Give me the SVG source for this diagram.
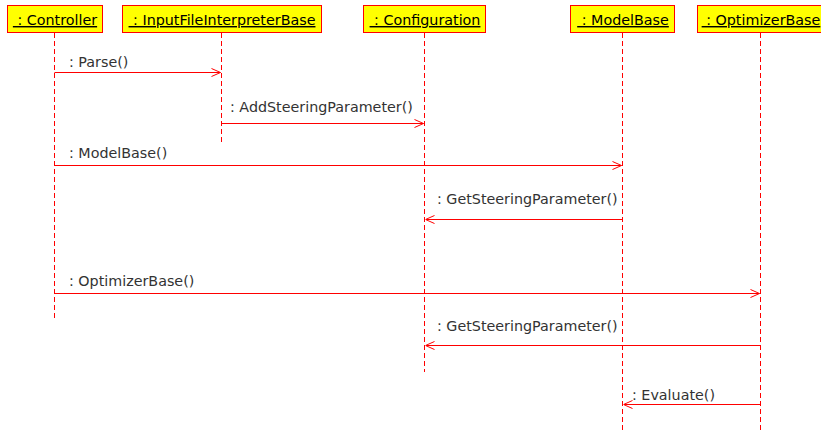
<svg xmlns="http://www.w3.org/2000/svg" width="821" height="431" viewBox="0 0 821 431">
<style>
.box{fill:#ffff00;stroke:#ff0000;stroke-width:1}
.hd{font-family:"DejaVu Sans",sans-serif;font-size:14.3px;fill:#000;text-anchor:middle;text-decoration:underline}
.life{stroke:#ff0000;stroke-width:1;stroke-dasharray:5,3;fill:none}
.msg{stroke:#ff0000;stroke-width:1;fill:none}
.lbl{font-family:"DejaVu Sans",sans-serif;font-size:14.3px;fill:#333}
</style>
<defs>
<marker id="ah" viewBox="0 0 10 10" refX="10" refY="5" markerWidth="10" markerHeight="10" markerUnits="userSpaceOnUse" orient="auto">
<path d="M1,1 L10,5 L1,9" fill="none" stroke="#ff0000" stroke-width="1"/>
</marker>
</defs>
<rect width="821" height="431" fill="#fff"/>
<g id="controller">
<line class="life" x1="54.5" y1="33" x2="54.5" y2="321"/>
<rect class="box" x="7.5" y="5.5" width="95" height="27"/>
<text class="hd" x="55" y="25">&#160;: Controller</text>
</g>
<g id="inputfileinterpreterbase">
<line class="life" x1="221.5" y1="33" x2="221.5" y2="145"/>
<rect class="box" x="122.5" y="5.5" width="199" height="27"/>
<text class="hd" x="222" y="25">&#160;: InputFileInterpreterBase</text>
</g>
<g id="configuration">
<line class="life" x1="424.5" y1="33" x2="424.5" y2="372"/>
<rect class="box" x="363.5" y="5.5" width="122" height="27"/>
<text class="hd" x="425" y="25">&#160;: Configuration</text>
</g>
<g id="modelbase">
<line class="life" x1="622.5" y1="33" x2="622.5" y2="431"/>
<rect class="box" x="570.5" y="5.5" width="104" height="27"/>
<text class="hd" x="623" y="25">&#160;: ModelBase</text>
</g>
<g id="optimizerbase">
<line class="life" x1="760.5" y1="33" x2="760.5" y2="431"/>
<rect class="box" x="697.5" y="5.5" width="126" height="27"/>
<text class="hd" x="761" y="25">&#160;: OptimizerBase</text>
</g>
<g id="connectors">
<line class="msg" x1="54.5" y1="72.5" x2="220.5" y2="72.5" marker-end="url(#ah)"/>
<text class="lbl" x="69" y="67">: Parse()</text>
<line class="msg" x1="221.5" y1="123.5" x2="423.5" y2="123.5" marker-end="url(#ah)"/>
<text class="lbl" x="230" y="112">: AddSteeringParameter()</text>
<line class="msg" x1="54.5" y1="165.5" x2="621.5" y2="165.5" marker-end="url(#ah)"/>
<text class="lbl" x="69" y="158">: ModelBase()</text>
<line class="msg" x1="622.5" y1="219.5" x2="425.5" y2="219.5" marker-end="url(#ah)"/>
<text class="lbl" x="437" y="204">: GetSteeringParameter()</text>
<line class="msg" x1="54.5" y1="293.5" x2="759.5" y2="293.5" marker-end="url(#ah)"/>
<text class="lbl" x="69" y="286">: OptimizerBase()</text>
<line class="msg" x1="760.5" y1="345.5" x2="425.5" y2="345.5" marker-end="url(#ah)"/>
<text class="lbl" x="437" y="331">: GetSteeringParameter()</text>
<line class="msg" x1="760.5" y1="404.5" x2="623.5" y2="404.5" marker-end="url(#ah)"/>
<text class="lbl" x="632" y="400">: Evaluate()</text>
</g>
</svg>
